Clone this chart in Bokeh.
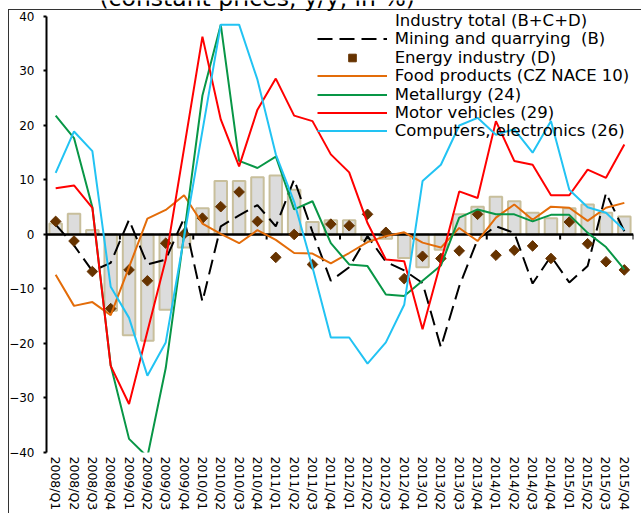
import numpy as np
from bokeh.plotting import figure
from bokeh.models import FactorRange, Range1d, Legend, LegendItem, Label, FixedTicker
from bokeh.embed import file_html
from bokeh.resources import INLINE

quarters = ["2008/Q1", "2008/Q2", "2008/Q3", "2008/Q4", "2009/Q1", "2009/Q2", "2009/Q3", "2009/Q4",
            "2010/Q1", "2010/Q2", "2010/Q3", "2010/Q4", "2011/Q1", "2011/Q2", "2011/Q3", "2011/Q4",
            "2012/Q1", "2012/Q2", "2012/Q3", "2012/Q4", "2013/Q1", "2013/Q2", "2013/Q3", "2013/Q4",
            "2014/Q1", "2014/Q2", "2014/Q3", "2014/Q4", "2015/Q1", "2015/Q2", "2015/Q3", "2015/Q4"]
y_ticks = [-40, -30, -20, -10, 0, 10, 20, 30, 40]

industry_total = [2.0, 3.8, 0.8, -14.0, -18.5, -19.5, -13.8, -2.4, 4.8, 9.8, 9.8, 10.5, 10.8, 8.2, 2.3, 2.6,
                  2.6, -1.0, -0.8, -4.3, -6.0, -2.8, 3.7, 5.1, 6.9, 6.1, 4.0, 3.0, 4.8, 5.5, 4.0, 3.3]
mining = [1.8, -2.0, -6.7, -5.2, 2.7, -5.5, -4.6, 3.0, -12.3, 1.5, 3.5, 5.4, 1.5, 10.1, 0.5, -8.5,
          -6.0, -0.3, -5.0, -6.6, -8.9, -20.7, -9.5, -0.9, 1.5, 0.3, -9.0, -4.0, -8.8, -5.8, 7.6, 0.6]
energy = [2.4, -1.2, -6.8, -13.6, -6.5, -8.5, -1.6, 0.1, 3.0, 5.1, 7.8, 2.4, -4.2, 0.0, -5.5, 1.9,
          1.6, 3.7, 0.4, -8.1, -4.0, -4.4, -3.0, 3.7, -3.8, -2.9, -2.1, -4.4, 2.3, -1.7, -5.0, -6.5]
food = [-7.4, -13.1, -12.4, -14.8, -6.0, 2.9, 4.5, 7.2, 2.0, 0.1, -1.6, 0.8, -1.0, -3.4, -3.5, -5.3,
        -3.4, -1.4, -0.3, 0.4, -1.5, -2.4, 1.2, -1.2, 3.1, 5.5, 2.7, 5.1, 4.9, 2.5, 4.9, 5.8]
metallurgy = [21.8, 17.7, 5.0, -24.0, -37.5, -40.8, -24.5, 0.0, 25.5, 38.5, 13.5, 12.2, 14.3, 4.6, 6.1, -1.6,
              -5.5, -5.8, -11.0, -11.3, -8.5, -5.7, 3.1, 4.6, 3.7, 3.7, 2.4, 3.6, 3.6, 0.3, -2.3, -6.4]
motor_vehicles = [8.5, 9.0, 4.9, -24.1, -31.1, -17.8, -4.6, 15.8, 36.3, 21.1, 12.5, 22.9, 28.6, 21.8, 20.8, 14.7,
                  11.4, 2.1, -4.6, -4.9, -17.4, -5.0, 7.9, 6.7, 20.8, 13.5, 12.8, 7.2, 7.2, 11.9, 10.4, 16.5]
computers = [11.3, 18.9, 15.3, -9.6, -15.3, -25.9, -19.8, -0.5, 19.0, 38.5, 38.5, 28.4, 14.7, 6.0, -6.0, -18.9,
             -18.9, -23.7, -19.8, -12.9, 9.8, 12.8, 20.0, 21.4, 18.3, 19.3, 15.0, 20.8, 8.2, 5.0, 4.0, 0.8]

series_names = ["Industry total (B+C+D)", "Mining and quarrying  (B)", "Energy industry (D)",
                "Food products (CZ NACE 10)", "Metallurgy (24)", "Motor vehicles (29)",
                "Computers, electronics (26)"]
title_text = "(constant prices, y/y, in %)"

FONT = "DejaVu Sans"
W, H = 641, 513
B_LEFT, B_RIGHT, B_BOTTOM = 46, 8, 60
Y40_PX = 16                      # pixel row of the 40 tick
FRAME_BOTTOM_Y = H - B_BOTTOM    # pixel row of the frame bottom (-40)
px_per_unit = (FRAME_BOTTOM_Y - Y40_PX) / 80.0
y_top = 40 + Y40_PX / px_per_unit   # frame reaches the top of the canvas

BORDER = "#333333"
p = figure(width=W, height=H, x_range=FactorRange(factors=quarters), y_range=Range1d(-40, y_top),
           output_backend="svg", toolbar_location=None,
           min_border_left=B_LEFT, min_border_right=B_RIGHT, min_border_top=0, min_border_bottom=B_BOTTOM,
           styles={"background": f"linear-gradient({BORDER}, {BORDER}) 8px 9px / 633px 1px no-repeat, "
                                 f"linear-gradient({BORDER}, {BORDER}) 8px 9px / 1px 504px no-repeat, #ffffff"})
p.outline_line_color = None
p.xgrid.visible = False
p.ygrid.visible = False
p.background_fill_alpha = 0
p.border_fill_alpha = 0

# y axis
p.yaxis.ticker = FixedTicker(ticks=y_ticks)
p.yaxis.bounds = (-40, 40)
p.yaxis.axis_line_width = 2
p.yaxis.axis_line_color = "black"
p.yaxis.major_tick_line_width = 2
p.yaxis.major_tick_line_color = "black"
p.yaxis.major_tick_out = 3
p.yaxis.major_tick_in = 0
p.yaxis.minor_tick_out = 0
p.yaxis.minor_tick_in = 0
p.yaxis.major_label_standoff = 9
p.yaxis.major_label_text_font = FONT
p.yaxis.major_label_text_font_size = "12px"
p.yaxis.major_label_text_color = "black"

# x axis (category labels at the bottom)
p.xaxis.major_label_orientation = "vertical"
p.xaxis.major_tick_out = 0
p.xaxis.major_tick_in = 0
p.xaxis.axis_line_color = None
p.xaxis.major_label_standoff = 4
p.xaxis.major_label_text_font = FONT
p.xaxis.major_label_text_font_size = "12.5px"
p.xaxis.major_label_text_color = "black"

# bars
BAR_FILL, BAR_LINE = "#DCDCDC", "#C8BF9C"
r_bar = p.vbar(x=quarters, top=industry_total, width=0.68, fill_color=BAR_FILL,
               line_color=BAR_LINE, line_width=2)

# zero line with yearly tick marks
p.hspan(y=[0], line_color="black", line_width=2.5)
tick_len = 5 / px_per_unit
year_bounds = list(range(0, len(quarters) + 1, 4))
p.segment(x0=year_bounds, y0=[0] * len(year_bounds), x1=year_bounds, y1=[-tick_len] * len(year_bounds),
          line_color="black", line_width=2)

r_mining = p.line(quarters, mining, line_color="black", line_width=2, line_dash="15 7")
r_energy = p.scatter(quarters, energy, marker="square", size=7.5, angle=np.pi / 4,
                     fill_color="#663300", line_color="#663300", line_width=1)
r_food = p.line(quarters, food, line_color="#E36C09", line_width=2)
r_metal = p.line(quarters, metallurgy, line_color="#089646", line_width=2)
r_motor = p.line(quarters, motor_vehicles, line_color="#FF0000", line_width=2)
r_comp = p.line(quarters, computers, line_color="#22C3F3", line_width=2)

# legend swatch for the bars: a bordered band (empty proxy lines, square caps)
sw_border = p.line(x=[], y=[], line_color=BAR_LINE, line_width=8.5, line_cap="square")
sw_fill = p.line(x=[], y=[], line_color=BAR_FILL, line_width=4.5, line_cap="square")

leg_style = dict(padding=0, margin=0, spacing=0, border_line_color=None, background_fill_alpha=0,
                 label_text_font=FONT, label_text_font_size="16.5px", label_text_color="black",
                 label_height=19, glyph_height=19)

GLYPH_LEFT, TEXT_LEFT = 316.7, 395
item_centers = [21.5, 39.5, 58, 76.5, 95, 113, 131]
item_renderers = [[sw_border, sw_fill], [r_mining], [r_energy], [r_food], [r_metal], [r_motor], [r_comp]]
for i, (name, rends, cy) in enumerate(zip(series_names, item_renderers, item_centers)):
    if i == 0:
        gx, gw = GLYPH_LEFT + 4.25, 62
    else:
        gx, gw = GLYPH_LEFT, 70
    leg = Legend(items=[LegendItem(label=name, renderers=rends)],
                 location=(gx - B_LEFT, FRAME_BOTTOM_Y - (cy + 9.5)),
                 glyph_width=gw, label_standoff=int(round(TEXT_LEFT - gx - gw)), **leg_style)
    p.add_layout(leg)

# title (only its lower part is visible at the top of the window)
TITLE_BASELINE_SHIFT = 7.7   # the label is drawn about this much below the requested baseline
p.add_layout(Label(x=256.7 - B_LEFT, y=FRAME_BOTTOM_Y - 6 + TITLE_BASELINE_SHIFT, x_units="screen", y_units="screen",
                   text=title_text, text_align="center", text_baseline="alphabetic",
                   text_font=FONT, text_font_size="23.5px", text_color="black"))

open("out.html", "w").write(file_html(p, INLINE))
